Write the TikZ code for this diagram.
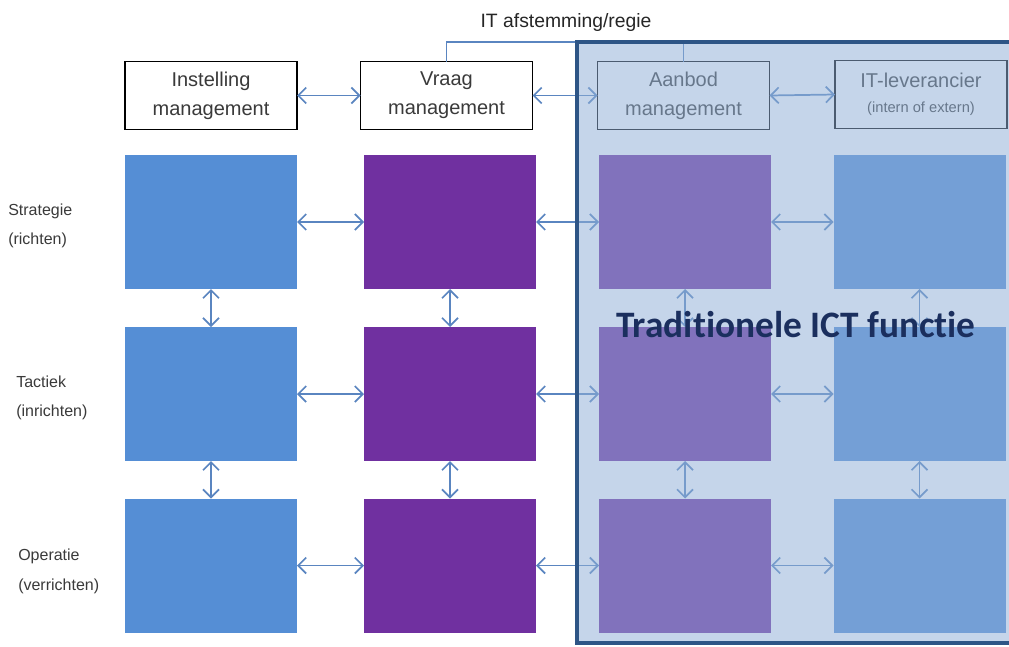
\documentclass[tikz,border=0pt]{standalone}
\usepackage{fontspec}
\setmainfont{Liberation Sans}
\newfontfamily\ictfont[RawFeature={-liga;-clig;-calt;-dlig}]{Carlito}
\usetikzlibrary{arrows.meta}
\definecolor{bluebox}{HTML}{558ED5}
\definecolor{purplebox}{HTML}{7030A0}
\definecolor{arrowblue}{HTML}{5A85C0}
\definecolor{ovlfill}{RGB}{145,176,215}
\definecolor{ovlborder}{HTML}{2E5586}
\definecolor{txtgray}{HTML}{3A3A3A}
\definecolor{ictnavy}{HTML}{1B2F5E}
\tikzset{
  gbox/.style={inner sep=0pt, outer sep=0pt, minimum width=129pt, minimum height=100.5pt},
  hbox/.style={draw=black, line width=1.1pt, fill=white, inner sep=0pt, outer sep=0pt,
    minimum width=129pt, minimum height=51pt, align=center, text=txtgray,
    font=\fontsize{15}{21.5}\selectfont},
  arr/.style={draw=arrowblue, line width=1.3pt,
    {Straight Barb[length=6pt,width=12pt]}-{Straight Barb[length=6pt,width=12pt]}},
  rowlabel/.style={anchor=west, inner sep=0pt, align=left, text=txtgray,
    font=\fontsize{12}{22}\selectfont},
  bracketline/.style={draw=arrowblue, line width=1.2pt}
}
\begin{document}
\begin{tikzpicture}[x=0.75pt, y=-0.75pt]
\useasboundingbox (0,0) rectangle (1009,646);
\fill[white] (0,0) rectangle (1009,646);

% top label
\node[anchor=base, inner sep=0pt, text=black!85, font=\fontsize{14.5}{17}\selectfont] (itlabel) at (566,27) {IT afstemming/regie};

% header boxes
\node[hbox] (inst) at (211,95.5) {Instelling\\management};
\node[hbox] (vraag) at (446.5,95.5) {Vraag\\management};
\node[hbox] (aanbod) at (683.5,95.5) {Aanbod\\management};
\node[hbox] (itlev) at (921,94.5) {IT-leverancier\\[-3pt]{\fontsize{11}{13}\selectfont (intern of extern)}};

\draw[arr] (inst.east) -- (vraag.west);
\draw[arr] (vraag.east) -- (aanbod.west);
\draw[arr] (aanbod.east) -- (itlev.west);

\coordinate (lvl) at (0,42);
\draw[bracketline] (vraag.north) -- (vraag.north |- lvl) -- (aanbod.north |- lvl) -- (aanbod.north);

% grid
\foreach \r/\y in {1/222, 2/394, 3/565.5} {
  \node[gbox, fill=bluebox] (b\r1) at (211,\y) {};
  \node[gbox, fill=purplebox] (b\r2) at (450,\y) {};
  \node[gbox, fill=purplebox] (b\r3) at (685,\y) {};
  \node[gbox, fill=bluebox] (b\r4) at (919.5,\y) {};
}
\foreach \r in {1,2,3} {
  \draw[arr] (b\r1.east) -- (b\r2.west);
  \draw[arr] (b\r2.east) -- (b\r3.west);
  \draw[arr] (b\r3.east) -- (b\r4.west);
}
\foreach \c in {1,2,3,4} {
  \draw[arr] (b1\c.south) -- (b2\c.north);
  \draw[arr] (b2\c.south) -- (b3\c.north);
}

% row labels
\node[rowlabel] (lstrat) at (8,226) {Strategie\\(richten)};
\node[rowlabel] (ltact) at (16,398) {Tactiek\\(inrichten)};
\node[rowlabel] (loper) at (18,571.5) {Operatie\\(verrichten)};

% overlay of the traditional ICT function
\fill[ovlfill, fill opacity=0.52] (577,42) rectangle (1012,643);
\draw[ovlborder, line width=2.6pt] (1012,42) -- (577,42) -- (577,643) -- (1012,643);

\node[anchor=base, inner sep=0pt, text=ictnavy, font=\ictfont\bfseries\fontsize{28}{31}\selectfont] (ict) at (796,337) {Tradit\kern0pt ionele ICT funct\kern0pt ie};
\end{tikzpicture}
\end{document}
